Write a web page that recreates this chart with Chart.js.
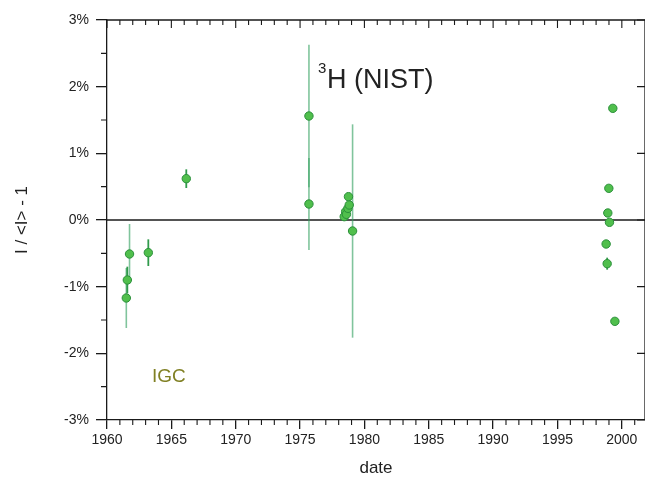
<!DOCTYPE html>
<html><head><meta charset="utf-8">
<script src="https://cdn.jsdelivr.net/npm/chart.js@4.4.0/dist/chart.umd.min.js"></script>
<style>html,body{margin:0;padding:0;background:#fff;overflow:hidden}canvas{display:block}</style>
</head><body>
<canvas id="c" width="645" height="477"></canvas>
<script>
// ---- data ----
const years  = [1961.50, 1961.58, 1961.75, 1963.21, 1966.16, 1975.69, 1975.69,
                1978.43, 1978.54, 1978.60, 1978.72, 1978.76, 1978.82, 1979.08,
                1998.78, 1998.86, 1998.91, 1998.99, 1999.04, 1999.30, 1999.46];
const values = [-1.17, -0.90, -0.51, -0.49, 0.62, 1.56, 0.24,
                0.05, 0.125, 0.085, 0.175, 0.35, 0.225, -0.165,
                -0.36, -0.655, 0.105, 0.475, -0.035, 1.675, -1.52];
const errors = [0.45, 0.20, 0.45, 0.20, 0.14, 1.07, 0.69,
                0, 0, 0, 0, 0, 0, 1.60,
                0, 0.09, 0, 0, 0, 0, 0];
const xTickValues = [1960, 1965, 1970, 1975, 1980, 1985, 1990, 1995, 2000];
const yTickValues = [-3, -2, -1, 0, 1, 2, 3];
const xTitle = 'date';
const yTitle = 'I / <I> - 1';
const titleSup = '3';
const titleMain = 'H (NIST)';
const groupLabel = 'IGC';

const AXIS = '#1a1a1a';
const FONT = '"Liberation Sans", Arial, Helvetica, sans-serif';

const deco = {
  id: 'deco',
  beforeDatasetsDraw(chart) {
    const {ctx, chartArea: a, scales: {x, y}} = chart;
    ctx.save();
    const y0 = y.getPixelForValue(0);
    ctx.strokeStyle = AXIS; ctx.lineWidth = 1.3;
    ctx.beginPath(); ctx.moveTo(a.left, y0); ctx.lineTo(a.right, y0); ctx.stroke();
    years.forEach((yr, i) => {
      const e = errors[i];
      if (!e) return;
      const px = x.getPixelForValue(yr);
      const yTop = y.getPixelForValue(values[i] + e);
      const yBot = y.getPixelForValue(values[i] - e);
      const big = e > 0.3;
      ctx.strokeStyle = big ? 'rgba(50,160,95,0.62)' : 'rgba(30,145,60,0.92)';
      ctx.lineWidth = big ? 1.6 : 1.8;
      ctx.beginPath(); ctx.moveTo(px, yTop); ctx.lineTo(px, yBot); ctx.stroke();
    });
    ctx.restore();
  },
  afterDraw(chart) {
    const {ctx, chartArea: a, scales: {x, y}} = chart;
    ctx.save();
    ctx.strokeStyle = AXIS; ctx.lineWidth = 1.3;
    ctx.beginPath();
    ctx.moveTo(a.left, a.top); ctx.lineTo(a.right, a.top);
    ctx.moveTo(a.right, a.top); ctx.lineTo(a.right, a.bottom);
    ctx.stroke();
    ctx.lineWidth = 1.1;
    ctx.beginPath();
    for (let yr = Math.ceil(x.min); yr <= x.max; yr++) {
      const px = x.getPixelForValue(yr);
      const major = yr % 5 === 0;
      if (!major) { ctx.moveTo(px, a.bottom); ctx.lineTo(px, a.bottom + 5); }
      ctx.moveTo(px, a.top); ctx.lineTo(px, a.top + (major ? 8 : 5));
    }
    for (let v = y.min; v <= y.max + 1e-9; v += 0.5) {
      const py = y.getPixelForValue(v);
      const major = Math.abs(v - Math.round(v)) < 1e-9;
      if (!major) { ctx.moveTo(a.left, py); ctx.lineTo(a.left - 6, py); }
      else { ctx.moveTo(a.right, py); ctx.lineTo(a.right - 8, py); }
    }
    ctx.stroke();
    ctx.fillStyle = '#222';
    ctx.textBaseline = 'alphabetic';
    ctx.textAlign = 'left';
    const tx = x.getPixelForValue(1976.4), ty = y.getPixelForValue(1.98);
    ctx.font = '15px ' + FONT;
    ctx.fillText(titleSup, tx, ty - 15);
    ctx.font = '27px ' + FONT;
    ctx.fillText(titleMain, tx + 9, ty);
    ctx.fillStyle = '#808024';
    ctx.font = '19px ' + FONT;
    ctx.fillText(groupLabel, x.getPixelForValue(1963.5), y.getPixelForValue(-2.43));
    ctx.restore();
  }
};

new Chart(document.getElementById('c'), {
  type: 'scatter',
  data: {
    datasets: [{
      data: years.map((v, i) => ({x: v, y: values[i]})),
      pointRadius: 4.2,
      pointHoverRadius: 4.2,
      backgroundColor: '#50bf4c',
      borderColor: '#2a8f3a',
      borderWidth: 1
    }]
  },
  options: {
    responsive: false,
    animation: false,
    layout: {autoPadding: false, padding: {top: 20, left: 0, right: 0, bottom: 0}},
    plugins: {legend: {display: false}, tooltip: {enabled: false}},
    scales: {
      x: {
        type: 'linear', min: 1960, max: 2001.8,
        afterBuildTicks: s => { s.ticks = xTickValues.map(v => ({value: v})); },
        afterFit: s => { s.height = 57; s.paddingLeft = 0; s.paddingRight = 0; },
        grid: {display: true, drawOnChartArea: false, drawTicks: true, tickLength: 9, color: AXIS, lineWidth: 1.3},
        border: {display: true, color: AXIS, width: 1.3},
        ticks: {font: {family: FONT, size: 14}, color: '#222', padding: 3, maxRotation: 0, autoSkip: false,
                callback: v => String(v)},
        title: {display: true, text: xTitle, color: '#222', font: {family: FONT, size: 17, lineHeight: 1}, padding: {top: 0, bottom: 0}}
      },
      y: {
        type: 'linear', min: -3, max: 3,
        afterBuildTicks: s => { s.ticks = yTickValues.map(v => ({value: v})); },
        afterFit: s => { s.width = 107; },
        grid: {display: true, drawOnChartArea: false, drawTicks: true, tickLength: 11, color: AXIS, lineWidth: 1.3},
        border: {display: true, color: AXIS, width: 1.3},
        ticks: {font: {family: FONT, size: 14}, color: '#222', padding: 7, callback: v => v + '%'},
        title: {display: true, text: yTitle, color: '#222', font: {family: FONT, size: 17, lineHeight: 1}, padding: {top: 14, bottom: 0}}
      }
    }
  },
  plugins: [deco]
});
</script>
</body></html>
